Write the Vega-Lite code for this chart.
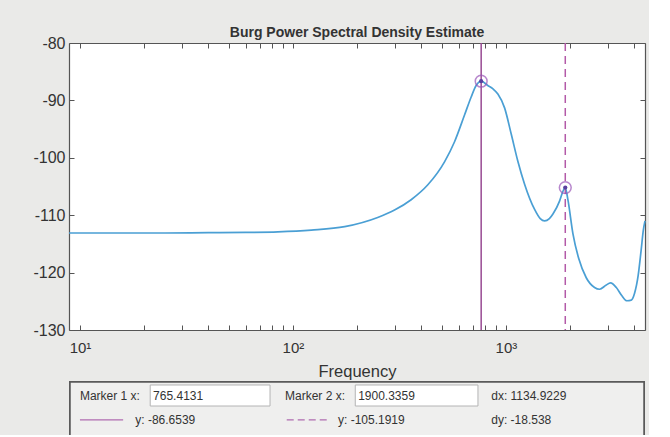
{
  "$schema": "https://vega.github.io/schema/vega-lite/v6.json",
  "background": "#eaeae8",
  "padding": {"left": 32, "top": 26, "right": 0, "bottom": 0},
  "spacing": 1,
  "config": {
    "font": "Liberation Sans",
    "axis": {"labelFont": "Liberation Sans", "titleFont": "Liberation Sans", "grid": false}
  },
  "datasets": {
    "psd": [
      {"freq": 8.88, "power": -113.1},
      {"freq": 15, "power": -113.1},
      {"freq": 25, "power": -113.1},
      {"freq": 40, "power": -113.05},
      {"freq": 60, "power": -113.0},
      {"freq": 85, "power": -112.9},
      {"freq": 122, "power": -112.6},
      {"freq": 175, "power": -112.0},
      {"freq": 250, "power": -110.4},
      {"freq": 300, "power": -109.1},
      {"freq": 359, "power": -107.3},
      {"freq": 430, "power": -104.7},
      {"freq": 515, "power": -100.7},
      {"freq": 574, "power": -97.2},
      {"freq": 640, "power": -92.5},
      {"freq": 687, "power": -89.4},
      {"freq": 725, "power": -87.4},
      {"freq": 765.4131, "power": -86.6539},
      {"freq": 822, "power": -87.4},
      {"freq": 870, "power": -88.0},
      {"freq": 917, "power": -88.9},
      {"freq": 986, "power": -91.3},
      {"freq": 1060, "power": -95.9},
      {"freq": 1138, "power": -100.6},
      {"freq": 1224, "power": -104.6},
      {"freq": 1364, "power": -109.0},
      {"freq": 1450, "power": -110.6},
      {"freq": 1520, "power": -111.0},
      {"freq": 1600, "power": -110.6},
      {"freq": 1663, "power": -109.8},
      {"freq": 1788, "power": -107.5},
      {"freq": 1850, "power": -105.9},
      {"freq": 1900.3359, "power": -105.1919},
      {"freq": 1955, "power": -107.3},
      {"freq": 2066, "power": -113.3},
      {"freq": 2200, "power": -117.6},
      {"freq": 2384, "power": -120.9},
      {"freq": 2608, "power": -122.6},
      {"freq": 2754, "power": -122.9},
      {"freq": 2950, "power": -122.2},
      {"freq": 3100, "power": -121.8},
      {"freq": 3300, "power": -122.6},
      {"freq": 3500, "power": -124.0},
      {"freq": 3700, "power": -124.9},
      {"freq": 3880, "power": -124.8},
      {"freq": 4020, "power": -123.6},
      {"freq": 4180, "power": -120.5},
      {"freq": 4313, "power": -116.2},
      {"freq": 4420, "power": -112.6},
      {"freq": 4500, "power": -111.0}
    ],
    "markers": [
      {"marker": "Marker 1", "freq": 765.4131, "power": -86.6539},
      {"marker": "Marker 2", "freq": 1900.3359, "power": -105.1919}
    ]
  },
  "vconcat": [
    {
      "width": 576,
      "height": 287,
      "title": {
        "text": "Burg Power Spectral Density Estimate",
        "fontSize": 14,
        "fontWeight": "bold",
        "color": "#333333",
        "anchor": "middle",
        "frame": "group",
        "offset": -5
      },
      "view": {"fill": "#ffffff", "stroke": null},
      "layer": [
        {
          "data": {"name": "psd"},
          "mark": {"type": "line", "interpolate": "monotone", "color": "#4a9fd4", "strokeWidth": 1.7},
          "encoding": {
            "x": {
              "field": "freq", "type": "quantitative",
              "scale": {"type": "log", "domain": [8.88, 4500], "nice": false, "zero": false},
              "axis": {
                "orient": "bottom",
                "title": "Frequency",
                "titleFontSize": 16.5,
                "titleFontWeight": "normal",
                "titleColor": "#333333",
                "titlePadding": 8,
                "values": [10, 20, 30, 40, 50, 60, 70, 80, 90, 100, 200, 300, 400, 500, 600, 700, 800, 900, 1000, 2000, 3000, 4000],
                "labelExpr": "datum.value == 10 ? '10¹' : datum.value == 100 ? '10²' : datum.value == 1000 ? '10³' : ''",
                "labelFontSize": 15,
                "labelColor": "#333333",
                "labelFlush": false,
                "labelOverlap": false,
                "labelBound": false,
                "labelPadding": 15,
                "tickSize": -5,
                "tickColor": "#555555",
                "domainColor": "#555555",
                "domainWidth": 1.2
              }
            },
            "y": {
              "field": "power", "type": "quantitative",
              "scale": {"domain": [-130, -80], "nice": false, "zero": false},
              "axis": {
                "orient": "left",
                "title": null,
                "values": [-130, -120, -110, -100, -90, -80],
                "labelExpr": "'' + datum.value",
                "labelFontSize": 16,
                "labelColor": "#333333",
                "labelPadding": 9,
                "tickSize": -5,
                "tickColor": "#555555",
                "domainColor": "#555555",
                "domainWidth": 1.2
              }
            }
          }
        },
        {
          "data": {"name": "markers"},
          "transform": [{"filter": "datum.marker == 'Marker 1'"}],
          "mark": {"type": "rule", "strokeWidth": 1.5, "color": "#984a93"},
          "encoding": {
            "x": {"field": "freq", "type": "quantitative", "axis": null}
          }
        },
        {
          "data": {"name": "markers"},
          "transform": [{"filter": "datum.marker == 'Marker 2'"}],
          "mark": {"type": "rule", "strokeWidth": 1.5, "color": "#b35aa8", "strokeDash": [8, 5]},
          "encoding": {
            "x": {"field": "freq", "type": "quantitative", "axis": null}
          }
        },
        {
          "data": {"name": "markers"},
          "mark": {"type": "point", "shape": "circle", "filled": false, "size": 140, "strokeWidth": 1.5, "color": "#9a55b8"},
          "encoding": {
            "x": {
              "field": "freq", "type": "quantitative",
              "axis": {
                "orient": "top", "title": null, "labels": false,
                "values": [10, 20, 30, 40, 50, 60, 70, 80, 90, 100, 200, 300, 400, 500, 600, 700, 800, 900, 1000, 2000, 3000, 4000],
                "tickSize": -5, "tickColor": "#555555", "domainColor": "#555555", "domainWidth": 1.2
              }
            },
            "y": {
              "field": "power", "type": "quantitative",
              "axis": {
                "orient": "right", "title": null, "labels": false,
                "values": [-130, -120, -110, -100, -90, -80],
                "tickSize": -5, "tickColor": "#555555", "domainColor": "#555555", "domainWidth": 1.2
              }
            }
          }
        },
        {
          "data": {"name": "markers"},
          "mark": {"type": "point", "shape": "circle", "filled": true, "size": 18, "color": "#5a3f9e", "opacity": 1},
          "encoding": {
            "x": {"field": "freq", "type": "quantitative", "axis": null},
            "y": {"field": "power", "type": "quantitative", "axis": null}
          }
        }
      ],
      "resolve": {"axis": {"x": "independent", "y": "independent"}}
    },
    {
      "width": 576,
      "height": 54,
      "view": {"fill": "#efefee", "stroke": null},
      "layer": [
        {
          "data": {"values": [{"u1": 0, "u2": 100, "v1": 0, "v2": 1.4}]},
          "mark": {"type": "rect", "fill": null, "stroke": "#5a5a5a", "strokeWidth": 3.5, "clip": true},
          "encoding": {
            "x": {"field": "u1", "type": "quantitative", "scale": {"domain": [0, 100], "nice": false, "zero": false}, "axis": null},
            "x2": {"field": "u2"},
            "y": {"field": "v1", "type": "quantitative", "scale": {"domain": [0, 1], "reverse": true, "nice": false, "zero": false}, "axis": null},
            "y2": {"field": "v2"}
          }
        },
        {
          "data": {"values": [
            {"u1": 14.1, "u2": 34.9, "v1": 0.074, "v2": 0.463},
            {"u1": 49.7, "u2": 71.0, "v1": 0.074, "v2": 0.463}
          ]},
          "mark": {"type": "rect", "fill": "#ffffff", "stroke": "#b4b4b4", "strokeWidth": 1},
          "encoding": {
            "x": {"field": "u1", "type": "quantitative", "axis": null},
            "x2": {"field": "u2"},
            "y": {"field": "v1", "type": "quantitative", "axis": null},
            "y2": {"field": "v2"}
          }
        },
        {
          "data": {"values": [{"u1": 1.9, "u2": 9.4, "v": 0.72}]},
          "mark": {"type": "rule", "strokeWidth": 1.2, "color": "#b06cb0"},
          "encoding": {
            "x": {"field": "u1", "type": "quantitative", "axis": null},
            "x2": {"field": "u2"},
            "y": {"field": "v", "type": "quantitative", "axis": null}
          }
        },
        {
          "data": {"values": [{"u1": 37.8, "u2": 44.8, "v": 0.72}]},
          "mark": {"type": "rule", "strokeWidth": 1.2, "color": "#b06cb0", "strokeDash": [7, 4]},
          "encoding": {
            "x": {"field": "u1", "type": "quantitative", "axis": null},
            "x2": {"field": "u2"},
            "y": {"field": "v", "type": "quantitative", "axis": null}
          }
        },
        {
          "data": {"values": [
            {"text": "Marker 1 x:", "u": 1.9, "v": 0.27},
            {"text": "765.4131", "u": 14.6, "v": 0.27},
            {"text": "Marker 2 x:", "u": 37.5, "v": 0.27},
            {"text": "1900.3359", "u": 50.2, "v": 0.27},
            {"text": "dx: 1134.9229", "u": 73.3, "v": 0.27},
            {"text": "y: -86.6539", "u": 11.5, "v": 0.72},
            {"text": "y: -105.1919", "u": 46.7, "v": 0.72},
            {"text": "dy: -18.538", "u": 73.3, "v": 0.72}
          ]},
          "mark": {"type": "text", "align": "left", "baseline": "middle", "fontSize": 12, "color": "#333333"},
          "encoding": {
            "x": {"field": "u", "type": "quantitative", "axis": null},
            "y": {"field": "v", "type": "quantitative", "axis": null},
            "text": {"field": "text"}
          }
        }
      ]
    }
  ]
}
